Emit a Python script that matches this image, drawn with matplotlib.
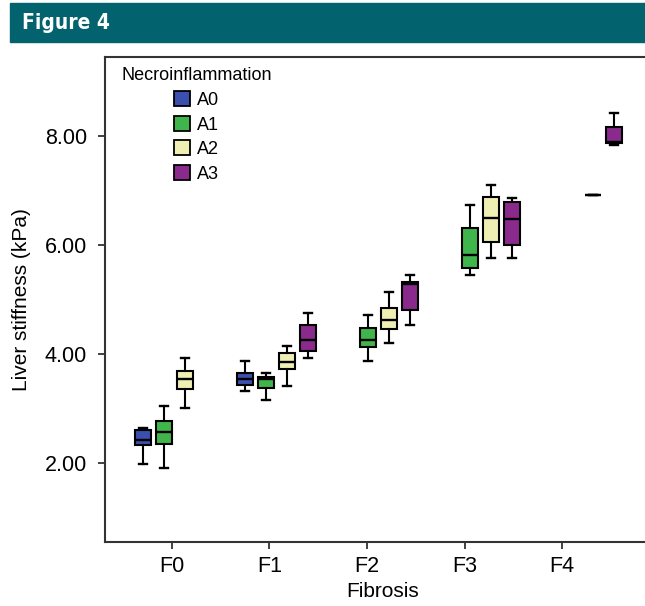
import matplotlib
matplotlib.use("Agg")
import matplotlib.pyplot as plt
from matplotlib.patches import Patch, Rectangle

plt.rcParams['font.family'] = ['Liberation Sans', 'DejaVu Sans']

# Fibrosis stages and necroinflammation grades
stages = ["F0", "F1", "F2", "F3", "F4"]
grades = ["A0", "A1", "A2", "A3"]
grade_colors = ["#3b4fae", "#3fb54b", "#efefb4", "#8a2a8c"]

# Box statistics per (stage, grade): whislo, q1, median, q3, whishi (kPa)
whislo = {
    ("F0", "A0"): 1.98, ("F0", "A1"): 1.91, ("F0", "A2"): 3.01,
    ("F1", "A0"): 3.33, ("F1", "A1"): 3.16, ("F1", "A2"): 3.41, ("F1", "A3"): 3.93,
    ("F2", "A1"): 3.88, ("F2", "A2"): 4.21, ("F2", "A3"): 4.53,
    ("F3", "A1"): 5.45, ("F3", "A2"): 5.77, ("F3", "A3"): 5.77,
    ("F4", "A2"): 6.91, ("F4", "A3"): 7.84,
}
q1 = {
    ("F0", "A0"): 2.33, ("F0", "A1"): 2.35, ("F0", "A2"): 3.35,
    ("F1", "A0"): 3.44, ("F1", "A1"): 3.38, ("F1", "A2"): 3.72, ("F1", "A3"): 4.06,
    ("F2", "A1"): 4.12, ("F2", "A2"): 4.46, ("F2", "A3"): 4.81,
    ("F3", "A1"): 5.57, ("F3", "A2"): 6.06, ("F3", "A3"): 6.00,
    ("F4", "A2"): 6.91, ("F4", "A3"): 7.88,
}
medians = {
    ("F0", "A0"): 2.43, ("F0", "A1"): 2.56, ("F0", "A2"): 3.54,
    ("F1", "A0"): 3.54, ("F1", "A1"): 3.54, ("F1", "A2"): 3.85, ("F1", "A3"): 4.26,
    ("F2", "A1"): 4.26, ("F2", "A2"): 4.62, ("F2", "A3"): 5.28,
    ("F3", "A1"): 5.82, ("F3", "A2"): 6.50, ("F3", "A3"): 6.47,
    ("F4", "A2"): 6.91, ("F4", "A3"): 7.89,
}
q3 = {
    ("F0", "A0"): 2.61, ("F0", "A1"): 2.77, ("F0", "A2"): 3.68,
    ("F1", "A0"): 3.66, ("F1", "A1"): 3.58, ("F1", "A2"): 4.01, ("F1", "A3"): 4.53,
    ("F2", "A1"): 4.48, ("F2", "A2"): 4.84, ("F2", "A3"): 5.32,
    ("F3", "A1"): 6.32, ("F3", "A2"): 6.89, ("F3", "A3"): 6.78,
    ("F4", "A2"): 6.91, ("F4", "A3"): 8.17,
}
whishi = {
    ("F0", "A0"): 2.65, ("F0", "A1"): 3.05, ("F0", "A2"): 3.92,
    ("F1", "A0"): 3.87, ("F1", "A1"): 3.66, ("F1", "A2"): 4.15, ("F1", "A3"): 4.76,
    ("F2", "A1"): 4.72, ("F2", "A2"): 5.13, ("F2", "A3"): 5.45,
    ("F3", "A1"): 6.73, ("F3", "A2"): 7.11, ("F3", "A3"): 6.86,
    ("F4", "A2"): 6.91, ("F4", "A3"): 8.43,
}

fig = plt.figure(figsize=(6.45, 6.06), dpi=100)

# Header band
fig.patches.append(Rectangle((10 / 645, 1 - 42 / 606), 1 - 10 / 645, 39 / 606,
                             transform=fig.transFigure, color="#02636e", zorder=0))
fig.text(22 / 645, 1 - 23 / 606, "Figure 4", color="white", fontsize=15,
         fontweight="bold", fontstretch="condensed",
         family=["Liberation Sans Narrow", "DejaVu Sans"],
         va="center", ha="left")

ax = fig.add_axes([105 / 645, 64 / 606, 555 / 645, 485 / 606])

group_step = 1.046
slot_step = 0.215
slot_start = -0.297
box_width = 0.164

for gi, stage in enumerate(stages):
    for ai, grade in enumerate(grades):
        key = (stage, grade)
        if key not in medians:
            continue
        pos = gi * group_step + slot_start + ai * slot_step
        stats = [dict(whislo=whislo[key], q1=q1[key], med=medians[key],
                      q3=q3[key], whishi=whishi[key], fliers=[])]
        ax.bxp(stats, positions=[pos], widths=box_width, patch_artist=True,
               showfliers=False, capwidths=0.075,
               boxprops=dict(facecolor=grade_colors[ai], edgecolor="black", linewidth=1.5),
               medianprops=dict(color="black", linewidth=1.7),
               whiskerprops=dict(color="black", linewidth=1.5),
               capprops=dict(color="black", linewidth=1.7))

ax.set_xlim(-0.687, 5.005)
ax.set_ylim(0.55, 9.45)
ax.set_xticks(range(len(stages)))
ax.set_xticklabels(stages, fontsize=15.5)
ax.set_yticks([2, 4, 6, 8])
ax.set_yticklabels([f"{v:.2f}" for v in [2, 4, 6, 8]], fontsize=15.5)
ax.tick_params(axis="both", direction="out", length=5, width=1.3, color="#333333")
ax.tick_params(axis="x", pad=5)
ax.tick_params(axis="y", pad=8)
for s in ax.spines.values():
    s.set_linewidth(1.5)
    s.set_color("#333333")
ax.set_xlabel("Fibrosis", fontsize=15, labelpad=4)
ax.set_ylabel("Liver stiffness (kPa)", fontsize=15, labelpad=10)

handles = [Patch(facecolor=c, edgecolor="black", linewidth=1.3) for c in grade_colors]
leg = ax.legend(handles, grades, title="Necroinflammation", loc="upper left",
                bbox_to_anchor=(0.0, 1.012), frameon=False, fontsize=13,
                title_fontsize=13, handlelength=0.9, handleheight=0.9,
                handletextpad=0.35, labelspacing=0.38)

fig.savefig("out.png", dpi=100)
